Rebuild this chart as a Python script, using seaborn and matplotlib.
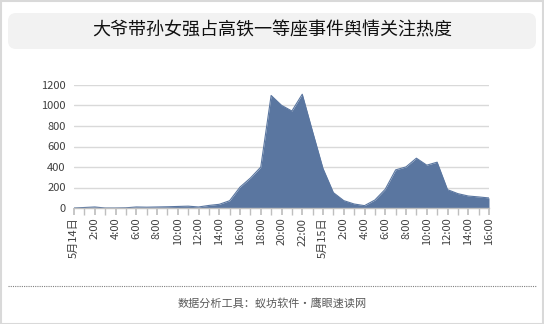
import matplotlib
matplotlib.use("Agg")
import matplotlib.pyplot as plt
import seaborn as sns
import pandas as pd
from matplotlib.patches import FancyBboxPatch, Rectangle
from matplotlib.lines import Line2D

title = "大爷带孙女强占高铁一等座事件舆情关注热度"
footer = "数据分析工具：蚁坊软件・鹰眼速读网"

hours = list(range(41))
values = [0, 5, 10, 0, 0, 2, 10, 8, 10, 12, 15, 18, 10, 25, 36, 71, 204, 292, 399,
          1098, 1002, 946, 1110, 744, 385, 150, 72, 39, 23, 78, 183, 372, 401,
          486, 418, 447, 179, 140, 117, 108, 98]
tick_labels = ["5月14日", "2:00", "4:00", "6:00", "8:00", "10:00", "12:00", "14:00",
               "16:00", "18:00", "20:00", "22:00", "5月15日", "2:00", "4:00", "6:00",
               "8:00", "10:00", "12:00", "14:00", "16:00"]
y_ticks = [0, 200, 400, 600, 800, 1000, 1200]

df = pd.DataFrame({"hour": hours, "value": values})

sns.set_theme(style="white")
plt.rcParams["font.family"] = ["Noto Sans CJK SC", "DejaVu Sans"]

W, H = 544, 324
fig = plt.figure(figsize=(W / 100, H / 100), dpi=100)
fig.patch.set_facecolor("white")

# outer border
fig.patches.append(Rectangle((0.5 / W, 0.5 / H), (W - 1.5) / W, (H - 1.5) / H,
                             transform=fig.transFigure, fill=False,
                             edgecolor="#d9d9d9", linewidth=1.5))
# title box
fig.patches.append(FancyBboxPatch((8 / W, 1 - 49 / H), 528 / W, 36 / H,
                                  boxstyle="round,pad=0,rounding_size=0.015",
                                  transform=fig.transFigure, facecolor="#f2f2f2",
                                  edgecolor="none", mutation_aspect=W / H))
fig.text(0.5, 1 - 30.5 / H, title, ha="center", va="center", fontsize=13, color="#111111")

ax = fig.add_axes([74 / W, 1 - 208 / H, (489 - 74) / W, (208 - 85) / H])
color = "#5a76a0"
ax.fill_between(df["hour"], df["value"], 0, color=color, linewidth=0)
sns.lineplot(data=df, x="hour", y="value", ax=ax, color=color, linewidth=0.8)

ax.set_xlim(0, 40)
ax.set_ylim(0, 1200)
ax.set_yticks(y_ticks)
ax.set_yticklabels([str(v) for v in y_ticks])
ax.set_xticks(list(range(0, 41, 2)))
ax.set_xticklabels(tick_labels, rotation=90)
ax.set_xticks(list(range(0, 41)), minor=True)
ax.set_xlabel("")
ax.set_ylabel("")
ax.grid(axis="y", color="#d9d9d9", linewidth=1)
ax.set_axisbelow(True)
for s in ["top", "right", "left"]:
    ax.spines[s].set_visible(False)
ax.spines["bottom"].set_color("#bfbfbf")
ax.spines["bottom"].set_linewidth(1)
ax.tick_params(axis="x", which="both", bottom=True, length=5, color="#bfbfbf",
               labelsize=8, labelcolor="#404040", pad=2)
ax.tick_params(axis="y", length=0, labelsize=8, labelcolor="#404040", pad=6)

# footer
fig.lines.append(Line2D([8 / W, 536 / W], [1 - 286 / H, 1 - 286 / H],
                        transform=fig.transFigure, color="#808080",
                        linestyle=(0, (1, 1)), linewidth=0.8))
fig.text(0.5, 1 - 303 / H, footer, ha="center", va="center", fontsize=8, color="#595959")

fig.savefig("out.png", dpi=100)
